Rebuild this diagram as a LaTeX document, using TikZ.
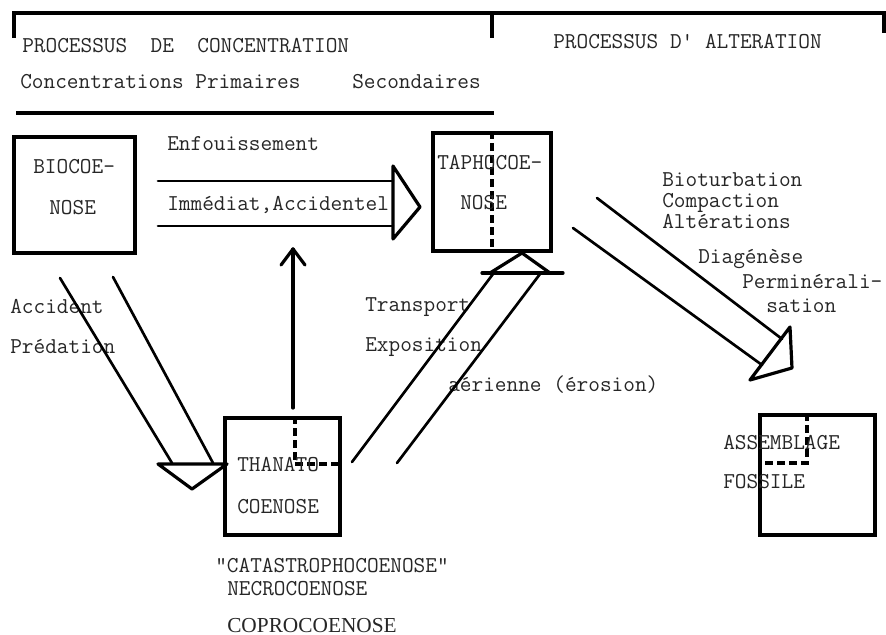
\documentclass[tikz,border=0pt]{standalone}
\usepackage{fontspec}
\newfontfamily\tser{Liberation Serif}
\begin{document}
\begin{tikzpicture}[x=0.75pt,y=-0.75pt,
  lbl/.style={anchor=base west,inner sep=0,text height=11pt,text depth=3pt,font=\ttfamily\fontsize{17}{18}\selectfont,text=black!85},
  box/.style={draw,line width=2.3pt,rectangle,inner sep=0},
  ln/.style={line width=2pt,line cap=round,line join=round},
  dsh/.style={line width=2.4pt,dash pattern=on 6pt off 3pt}]
\useasboundingbox (0,0) rectangle (886,635);

% header
\coordinate (hl) at (14,38);
\coordinate (hlt) at (14,13);
\coordinate (hm) at (492,38);
\coordinate (hmt) at (492,13);
\coordinate (hr) at (884,33);
\coordinate (hrt) at (884,13);
\draw[line width=2.3pt] (hl) -- (hlt) -- (hrt) -- (hr);
\draw[line width=2.3pt] (hmt) -- (hm);
\coordinate (ul) at (16,113);
\coordinate (ur) at (494,113);
\draw[line width=2.6pt] (ul) -- (ur);

\node[lbl] (pc) at (22,53) {PROCESSUS\ \ DE\ \ CONCENTRATION};
\node[lbl] (pa) at (553,49) {PROCESSUS D' ALTERATION};
\node[lbl] (cp) at (20,89) {Concentrations Primaires};
\node[lbl] (sec) at (352,89) {Secondaires};

% boxes
\node[box,minimum width=90.75pt,minimum height=87pt] (bio) at (74.5,195) {};
\node[box,minimum width=88.5pt,minimum height=88.5pt] (tap) at (492,192) {};
\node[box,minimum width=86.25pt,minimum height=87.75pt] (tha) at (282.5,476.5) {};
\node[box,minimum width=86.25pt,minimum height=90pt] (fos) at (817.5,475) {};

% dashed separators
\draw[dsh] (tap.north) -- (tap.south);
\coordinate (thc) at (295,464);
\draw[dsh] (tha.north -| thc) -- (thc) -- (tha.east |- thc);
\coordinate (foc) at (807,463);
\draw[dsh] (fos.north -| foc) -- (foc) -- (fos.west |- foc);

% box texts
\node[lbl] (b1) at (33,173) {BIOCOE-};
\node[lbl] (b2) at (49,214) {NOSE};
\node[lbl] (t1) at (437,169) {TAPHOCOE-};
\node[lbl] (t2) at (460,209) {NOSE};
\node[lbl] (h1) at (237,471) {THANATO};
\node[lbl] (h2) at (237,513) {COENOSE};
\node[lbl] (f1) at (723,449) {ASSEMBLAGE};
\node[lbl] (f2) at (723,488) {FOSSILE};

% labels
\node[lbl] (enf) at (167,151) {Enfouissement};
\node[lbl] (imm) at (167,210) {Immédiat,Accidentel};
\node[lbl] (acc) at (10,313) {Accident};
\node[lbl] (pre) at (10,353) {Prédation};
\node[lbl] (tra) at (365,311) {Transport};
\node[lbl] (exp) at (365,351) {Exposition};
\node[lbl] (aer) at (448,391) {aérienne (érosion)};
\node[lbl] (bt) at (662,186) {Bioturbation};
\node[lbl] (co) at (662,207) {Compaction};
\node[lbl] (al) at (662,228) {Altérations};
\node[lbl] (di) at (698,263) {Diagénèse};
\node[lbl] (pe) at (742,288) {Perminérali-};
\node[lbl] (sa) at (766,312) {sation};
\node[lbl] (ca) at (215,572) {"CATASTROPHOCOENOSE"};
\node[lbl] (ne) at (227,595) {NECROCOENOSE};
\node[anchor=base west,inner sep=0,font=\tser\fontsize{16}{17}\selectfont,text=black!85] (cop) at (227,632) {COPROCOENOSE};

% arrow: Biocoenose -> Taphocoenose (hollow, horizontal)
\coordinate (e1) at (158,181);
\coordinate (e2) at (393,181);
\coordinate (e3) at (158,226);
\coordinate (e4) at (393,226);
\coordinate (eh1) at (393,166);
\coordinate (eh2) at (420,207);
\coordinate (eh3) at (393,239);
\draw[ln] (e1) -- (e2);
\draw[ln] (e3) -- (e4);
\draw[ln,line width=2.4pt] (eh1) -- (eh2) -- (eh3) -- cycle;

% arrow: Thanatocoenose -> up
\coordinate (v1) at (293,408);
\coordinate (v2) at (293,249);
\coordinate (vb1) at (281,265);
\coordinate (vb2) at (305,265);
\draw[ln,line width=2.4pt] (v1) -- (v2);
\draw[ln,line width=2.4pt] (vb1) -- (v2) -- (vb2);

% arrow: Biocoenose -> Thanatocoenose
\coordinate (a1) at (60,278);
\coordinate (a2) at (172,463);
\coordinate (a3) at (113,277);
\coordinate (a4) at (213,463);
\coordinate (ah1) at (158,464);
\coordinate (ah2) at (192,489);
\coordinate (ah3) at (227,464);
\draw[ln] (a1) -- (a2);
\draw[ln] (a3) -- (a4);
\draw[ln,line width=2.4pt] (ah1) -- (ah3) -- (ah2) -- cycle;

% arrow: Thanatocoenose -> Taphocoenose
\coordinate (r1) at (352,462);
\coordinate (r2) at (493,274);
\coordinate (r3) at (397,463);
\coordinate (r4) at (540,274);
\coordinate (rb1) at (482,273);
\coordinate (rb2) at (563,273);
\coordinate (rh1) at (490,273);
\coordinate (rh2) at (522,253);
\coordinate (rh3) at (550,273);
\draw[ln] (r1) -- (r2);
\draw[ln] (r3) -- (r4);
\draw[ln,line width=2.4pt] (rb1) -- (rb2);
\draw[ln,line width=2.4pt] (rh1) -- (rh2) -- (rh3);

% arrow: Taphocoenose -> Assemblage fossile
\coordinate (d1) at (597,198);
\coordinate (d2) at (782,339);
\coordinate (d3) at (573,228);
\coordinate (d4) at (762,365);
\coordinate (dh1) at (790,327);
\coordinate (dh2) at (792,368);
\coordinate (dh3) at (750,380);
\draw[ln] (d1) -- (d2);
\draw[ln] (d3) -- (d4);
\draw[ln,line width=2.4pt] (dh1) -- (dh2) -- (dh3) -- cycle;
\end{tikzpicture}
\end{document}
